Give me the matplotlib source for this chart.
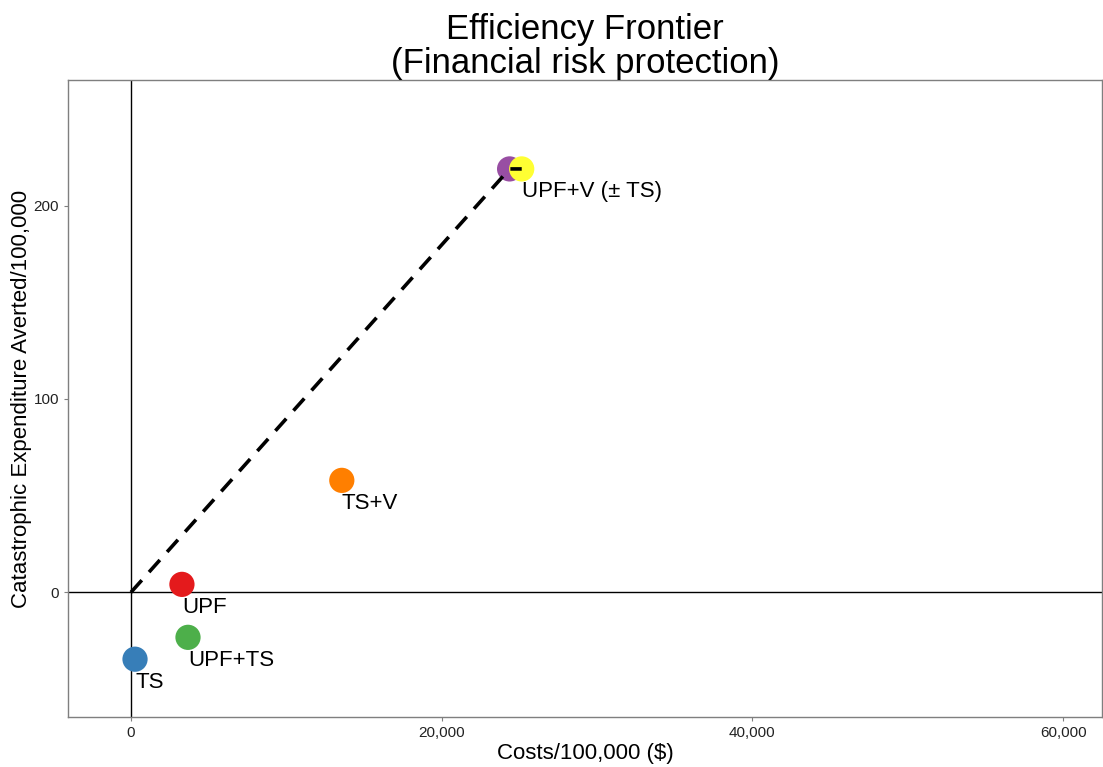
import matplotlib.pyplot as plt

plt.rcParams['font.family'] = ['Liberation Sans', 'DejaVu Sans']

# data
labels = ["TS", "UPF+TS", "UPF", "TS+V", "UPF+V", "UPF+V (± TS)"]
costs = [260, 3670, 3280, 13570, 24370, 25150]
averted = [-34.6, -23.3, 4.1, 57.9, 219, 219]
colors = ["#377EB8", "#4DAF4A", "#E41A1C", "#FF7F00", "#984EA3", "#FFFF33"]
show_label = [True, True, True, True, False, True]

# frontier: origin -> UPF+V -> UPF+V (± TS)
frontier_x = [0, 24370, 25150]
frontier_y = [0, 219, 219]

xticks = [0, 20000, 40000, 60000]
xticklabels = ["0", "20,000", "40,000", "60,000"]
yticks = [0, 100, 200]

fig = plt.figure(figsize=(11.03, 7.67), dpi=100)
ax = fig.add_axes([0.0617, 0.0652, 0.9374, 0.8305])

ax.axhline(0, color="black", lw=1, zorder=1)
ax.axvline(0, color="black", lw=1, zorder=1)

ax.plot(frontier_x, frontier_y, color="black", lw=2.6, ls=(0, (4.5, 3)), zorder=3)

ax.scatter(costs, averted, s=330, c=colors, edgecolors="none", zorder=2)

for lab, x, y, show in zip(labels, costs, averted, show_label):
    if show:
        ax.annotate(lab, (x, y), xytext=(0, -9), textcoords="offset points",
                    ha="left", va="top", fontsize=16, zorder=4)

ax.set_xlim(-4050, 62500)
ax.set_ylim(-64.5, 265)
ax.set_xticks(xticks)
ax.set_xticklabels(xticklabels)
ax.set_yticks(yticks)
ax.tick_params(labelsize=11, length=3, color="#7f7f7f", labelcolor="#222222")

for s in ax.spines.values():
    s.set_color("#7f7f7f")
    s.set_linewidth(1)

ax.set_xlabel("Costs/100,000 ($)", fontsize=16, labelpad=2)
ax.set_ylabel("Catastrophic Expenditure Averted/100,000", fontsize=16, labelpad=1)
ax.set_title("Efficiency Frontier\n(Financial risk protection)", fontsize=25,
             linespacing=1.05, pad=1)

fig.savefig("out.png", dpi=100)
